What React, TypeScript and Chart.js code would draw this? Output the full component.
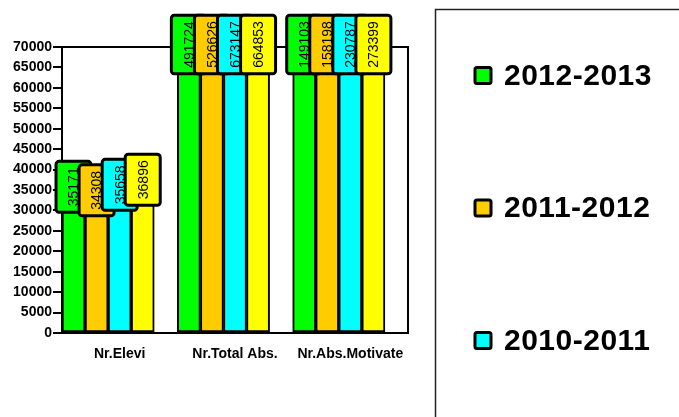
import React, { useEffect, useRef } from "react";
import { Chart, registerables } from "chart.js";

Chart.register(...registerables);

const categories = ["Nr.Elevi", "Nr.Total Abs.", "Nr.Abs.Motivate"];
const seriesLabels = ["2012-2013", "2011-2012", "2010-2011", "2009-2010"];
const values2012_2013 = [35171, 491724, 149103];
const values2011_2012 = [34308, 526626, 158198];
const values2010_2011 = [35658, 673147, 230787];
const values2009_2010 = [36896, 664853, 273399];
const seriesColors = ["#00FF00", "#FFCC00", "#00FFFF", "#FFFF00"];
const yMin = 0;
const yMax = 70000;
const yStep = 5000;

const FONT = "'Liberation Sans', Arial, Helvetica, sans-serif";

const seriesValues = [values2012_2013, values2011_2012, values2010_2011, values2009_2010];

const plotBorderPlugin = {
  id: "plotBorder",
  beforeDatasetsDraw(chart: any) {
    const { ctx, chartArea } = chart;
    ctx.save();
    ctx.strokeStyle = "#000";
    ctx.lineWidth = 2;
    ctx.beginPath();
    ctx.moveTo(chartArea.left, chartArea.top);
    ctx.lineTo(chartArea.right, chartArea.top);
    ctx.lineTo(chartArea.right, chartArea.bottom);
    ctx.stroke();
    ctx.restore();
  },
};

const valueBoxPlugin = {
  id: "valueBoxes",
  afterDatasetsDraw(chart: any) {
    const { ctx, chartArea } = chart;
    ctx.save();
    ctx.font = `14px ${FONT}`;
    for (let j = 0; j < categories.length; j++) {
      for (let i = 0; i < seriesValues.length; i++) {
        const meta = chart.getDatasetMeta(i);
        const el = meta.data[j];
        if (!el) continue;
        const value = seriesValues[i][j];
        const text = String(value);
        const tw = ctx.measureText(text).width;
        const cx = el.x;
        const cy = Math.max(el.y, chartArea.top) - 2.5;
        const w = 35;
        const h = tw + 12;
        ctx.beginPath();
        (ctx as any).roundRect(cx - w / 2, cy - h / 2, w, h, 3);
        ctx.fillStyle = seriesColors[i];
        ctx.fill();
        ctx.lineWidth = 3;
        ctx.strokeStyle = "#000";
        ctx.stroke();
        ctx.save();
        ctx.translate(cx, cy);
        ctx.rotate(-Math.PI / 2);
        ctx.fillStyle = "#000";
        ctx.textAlign = "center";
        ctx.textBaseline = "middle";
        ctx.fillText(text, 0, 1);
        ctx.restore();
      }
    }
    ctx.restore();
  },
};

const legendPlugin = {
  id: "customLegend",
  afterDraw(chart: any) {
    const { ctx } = chart;
    ctx.save();
    ctx.strokeStyle = "#222";
    ctx.lineWidth = 1.5;
    ctx.strokeRect(435.5, 9.5, 400, 600);
    ctx.font = `bold 30px ${FONT}`;
    try {
      (ctx as any).letterSpacing = "0.5px";
    } catch (e) {}
    ctx.textAlign = "left";
    ctx.textBaseline = "middle";
    for (let i = 0; i < seriesLabels.length; i++) {
      const cy = 75.5 + i * 132.5;
      ctx.beginPath();
      (ctx as any).roundRect(475, cy - 8, 16, 16, 2);
      ctx.fillStyle = seriesColors[i];
      ctx.fill();
      ctx.lineWidth = 3;
      ctx.strokeStyle = "#000";
      ctx.stroke();
      ctx.fillStyle = "#000";
      ctx.fillText(seriesLabels[i], 504, cy + 1);
    }
    ctx.restore();
  },
};

export default function App() {
  const canvasRef = useRef<HTMLCanvasElement | null>(null);

  useEffect(() => {
    document.body.style.margin = "0";
    const canvas = canvasRef.current;
    if (!canvas) return;

    const datasets: any[] = seriesValues.map((vals, i) => ({
      label: seriesLabels[i],
      data: vals,
      backgroundColor: seriesColors[i],
      borderColor: "#000",
      borderWidth: 2,
      borderSkipped: false,
      barPercentage: 1,
      categoryPercentage: 1,
      clip: 0,
    }));
    // empty slot that leaves the gap after each group of bars
    datasets.push({
      label: "",
      data: categories.map(() => null),
      backgroundColor: "transparent",
      borderWidth: 0,
      barPercentage: 1,
      categoryPercentage: 1,
    });

    const chart = new Chart(canvas, {
      type: "bar",
      data: { labels: categories, datasets },
      options: {
        animation: false,
        responsive: false,
        events: [],
        layout: { padding: { left: 0, top: 47, right: 271, bottom: 0 } },
        plugins: {
          legend: { display: false },
          tooltip: { enabled: false },
          title: { display: false },
        },
        scales: {
          x: {
            ticks: {
              color: "#000",
              font: { family: FONT, size: 14, weight: "bold" },
              padding: 13,
              maxRotation: 0,
              autoSkip: false,
            },
            grid: { display: false, drawTicks: false },
            border: { display: true, color: "#000", width: 2 },
            afterFit: (s: any) => {
              s.height = 84;
            },
          },
          y: {
            min: yMin,
            max: yMax,
            ticks: {
              stepSize: yStep,
              color: "#000",
              font: { family: FONT, size: 14, weight: "bold" },
              padding: 1,
              callback: (v: any) => String(v),
            },
            grid: {
              drawOnChartArea: false,
              drawTicks: true,
              tickLength: 9,
              color: "#000",
              lineWidth: 2,
            },
            border: { display: true, color: "#000", width: 2 },
            afterFit: (s: any) => {
              s.width = 62;
            },
          },
        },
      } as any,
      plugins: [plotBorderPlugin, valueBoxPlugin, legendPlugin],
    });

    return () => chart.destroy();
  }, []);

  return (
    <div style={{ width: 679, height: 417, position: "relative", background: "#fff" }}>
      <canvas ref={canvasRef} width={679} height={417} style={{ display: "block" }} />
    </div>
  );
}
